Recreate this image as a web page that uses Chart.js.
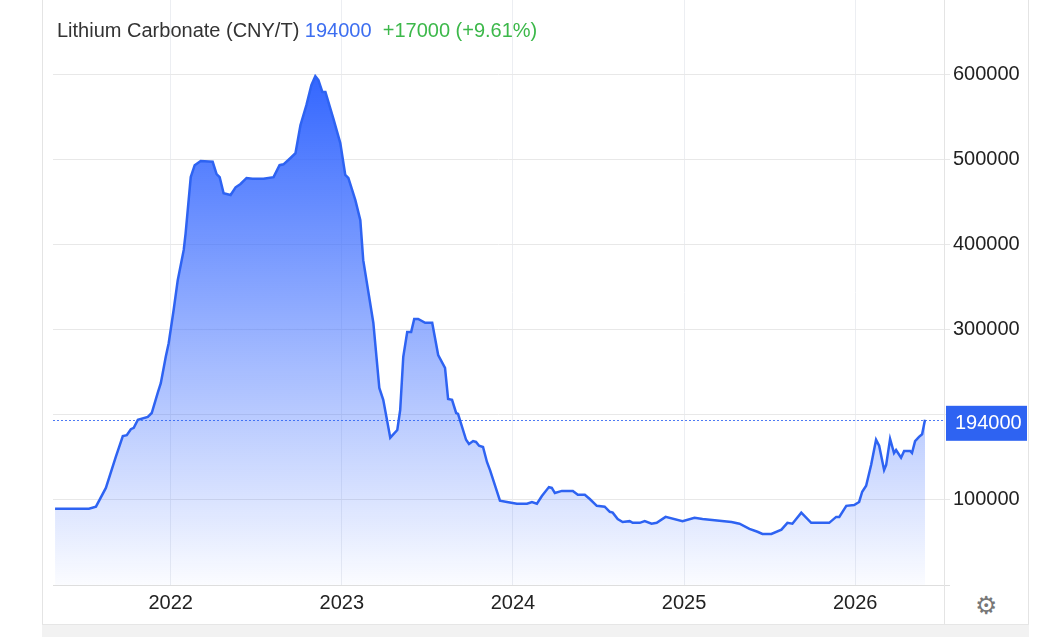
<!DOCTYPE html>
<html lang="en">
<head>
    <meta charset="UTF-8">
    <title>Lithium Carbonate</title>
    <style>
        body, html {
            margin: 0;
            padding: 0;
            width: 1064px;
            height: 637px;
            background: #fff;
            overflow: hidden;
            font-family: 'Liberation Sans', Arial, sans-serif;
        }
        .panel {
            position: absolute;
            left: 42px;
            top: 0;
            width: 985px;
            height: 624px;
            border-left: 1px solid #e4e4e4;
            border-right: 1px solid #e4e4e4;
        }
        .band {
            position: absolute;
            left: 42px;
            top: 624px;
            width: 987px;
            height: 13px;
            background: #f2f2f2;
            border-top: 1px solid #e6e6e6;
        }
        .divider {
            position: absolute;
            left: 944px;
            top: 585px;
            width: 1px;
            height: 39px;
            background: #e4e4e4;
        }
        .gear {
            position: absolute;
            left: 975px;
            top: 591px;
            font-family: 'DejaVu Sans', sans-serif;
            font-size: 25px;
            color: #777;
        }
        canvas {
            position: absolute;
            left: 0;
            top: 0;
        }
    </style>
    <script src="https://cdn.jsdelivr.net/npm/chart.js"></script>
</head>
<body>
    <div class="panel"></div>
    <div class="band"></div>
    <div class="divider"></div>
    <div class="gear">&#9881;</div>
    <canvas id="priceChart" width="1064" height="637"></canvas>
    <script>
        // dates as decimal years, prices in CNY/T
        const dates = [
            2021.324, 2021.522, 2021.563, 2021.621, 2021.679, 2021.720, 2021.743, 2021.767, 2021.784, 2021.808,
            2021.866, 2021.889, 2021.924, 2021.942, 2021.971, 2021.988, 2022.017, 2022.041, 2022.076, 2022.087,
            2022.117, 2022.140, 2022.175, 2022.245, 2022.268, 2022.286, 2022.309, 2022.350, 2022.379, 2022.408,
            2022.443, 2022.478, 2022.542, 2022.601, 2022.636, 2022.659, 2022.700, 2022.729, 2022.758, 2022.793,
            2022.822, 2022.845, 2022.863, 2022.886, 2022.904, 2022.950, 2022.991, 2023.020, 2023.038, 2023.079,
            2023.108, 2023.125, 2023.184, 2023.219, 2023.242, 2023.283, 2023.324, 2023.341, 2023.359, 2023.382,
            2023.405, 2023.423, 2023.446, 2023.487, 2023.528, 2023.563, 2023.603, 2023.621, 2023.644, 2023.668,
            2023.679, 2023.726, 2023.743, 2023.767, 2023.784, 2023.802, 2023.825, 2023.848, 2023.866, 2023.924,
            2023.965, 2024.023, 2024.082, 2024.111, 2024.140, 2024.169, 2024.210, 2024.227, 2024.245, 2024.286,
            2024.350, 2024.379, 2024.420, 2024.449, 2024.490, 2024.536, 2024.566, 2024.583, 2024.612, 2024.641,
            2024.682, 2024.700, 2024.741, 2024.770, 2024.810, 2024.840, 2024.892, 2024.991, 2025.061, 2025.108,
            2025.277, 2025.324, 2025.382, 2025.429, 2025.458, 2025.510, 2025.569, 2025.604, 2025.633, 2025.685,
            2025.743, 2025.773, 2025.848, 2025.889, 2025.907, 2025.948, 2025.994, 2026.023, 2026.041, 2026.064,
            2026.093, 2026.122, 2026.140, 2026.169, 2026.181, 2026.204, 2026.227, 2026.239, 2026.268, 2026.286,
            2026.321, 2026.332, 2026.350, 2026.373, 2026.391, 2026.408
        ];
        const prices = [
            89500, 89500, 92000, 114000, 150500, 175000, 176000, 183000, 184500, 194000,
            197500, 202000, 225500, 237000, 268000, 284000, 323000, 358000, 393500, 413000,
            479000, 493000, 498000, 497000, 482500, 479000, 460000, 458000, 467000, 471000,
            478000, 477000, 477000, 479000, 493000, 494000, 501500, 507000, 540000, 563500,
            587000, 597500, 593000, 579000, 579000, 548000, 519000, 481500, 478000, 452000,
            428500, 381500, 308000, 231500, 217500, 173000, 182000, 205500, 268000, 297000,
            297000, 312500, 312500, 308000, 308000, 270000, 255000, 218500, 217500, 202000,
            201000, 170500, 165500, 169000, 168000, 163500, 162000, 144500, 135000, 99000,
            97500, 95500, 95500, 97500, 95500, 104500, 115000, 114000, 108000, 110500,
            110500, 106000, 106000, 101000, 93000, 92000, 86000, 85000, 77500, 74000,
            75000, 73000, 73000, 75000, 72000, 73000, 80000, 75000, 79000, 77500,
            74000, 72000, 66000, 62500, 60000, 60000, 65000, 73000, 72000, 85000,
            73000, 73000, 73000, 80000, 80000, 93000, 94000, 97500, 109500, 116500,
            141000, 170500, 163500, 135000, 141000, 171500, 155000, 158500, 149500, 157500,
            157500, 155000, 169000, 174000, 177000, 194000
        ];
        const yearTicks = [2022, 2023, 2024, 2025, 2026];
        const priceTicks = [0, 100000, 200000, 300000, 400000, 500000, 600000];
        const hiddenPriceLabels = [0, 200000];

        const titleText = 'Lithium Carbonate (CNY/T) ';
        const lastText = '194000';
        const changeText = '+17000 (+9.61%)';

        const FONT = "'Liberation Sans', Arial, sans-serif";
        const LINE = '#2e63f2';

        const headerPlugin = {
            id: 'header',
            afterDraw(chart) {
                const ctx = chart.ctx;
                const area = chart.chartArea;
                const last = prices[prices.length - 1];
                const y = chart.scales.y.getPixelForValue(last);

                ctx.save();
                // dotted last-price line
                ctx.strokeStyle = 'rgba(46, 99, 242, 0.85)';
                ctx.lineWidth = 1;
                ctx.setLineDash([2, 2]);
                ctx.beginPath();
                ctx.moveTo(area.left, Math.round(y) + 0.5);
                ctx.lineTo(area.right, Math.round(y) + 0.5);
                ctx.stroke();
                ctx.setLineDash([]);

                // price badge
                ctx.fillStyle = '#2e63f2';
                ctx.fillRect(area.right + 2, y - 14, 81, 35);
                ctx.fillStyle = '#fff';
                ctx.font = '20px ' + FONT;
                ctx.textBaseline = 'middle';
                ctx.fillText(String(last), area.right + 11, y + 4);

                // title line
                ctx.textBaseline = 'alphabetic';
                let x = 57;
                ctx.fillStyle = '#333';
                ctx.fillText(titleText, x, 37);
                x += ctx.measureText(titleText).width;
                ctx.fillStyle = '#3d6ef0';
                ctx.fillText(lastText, x, 37);
                x += ctx.measureText(lastText + '  ').width;
                ctx.fillStyle = '#3cb84a';
                ctx.fillText(changeText, x, 37);
                ctx.restore();
            }
        };

        const ctx = document.getElementById('priceChart').getContext('2d');
        new Chart(ctx, {
            type: 'line',
            data: {
                datasets: [{
                    data: dates.map((d, i) => ({ x: d, y: prices[i] })),
                    borderColor: LINE,
                    borderWidth: 2.5,
                    pointRadius: 0,
                    tension: 0,
                    fill: 'origin',
                    backgroundColor: (c) => {
                        const area = c.chart.chartArea;
                        if (!area) return 'rgba(51,102,255,0.5)';
                        const top = c.chart.scales.y.getPixelForValue(600000);
                        const g = c.chart.ctx.createLinearGradient(0, top, 0, area.bottom);
                        g.addColorStop(0, 'rgba(51, 102, 255, 1)');
                        g.addColorStop(1, 'rgba(51, 102, 255, 0.02)');
                        return g;
                    }
                }]
            },
            options: {
                responsive: false,
                animation: false,
                layout: { padding: { left: 53, top: 0, right: 0, bottom: 0 } },
                plugins: {
                    legend: { display: false },
                    tooltip: { enabled: false }
                },
                scales: {
                    x: {
                        type: 'linear',
                        min: 2021.312,
                        max: 2026.519,
                        afterBuildTicks: (axis) => { axis.ticks = yearTicks.map(v => ({ value: v })); },
                        afterFit: (scale) => {
                            scale.height = 52;
                            scale.paddingLeft = 0;
                            scale.paddingRight = 0;
                        },
                        grid: { color: '#eceef2', drawTicks: false },
                        border: { color: '#dedede' },
                        ticks: {
                            color: '#222',
                            padding: 6,
                            maxRotation: 0,
                            font: { family: FONT, size: 20 },
                            callback: (v) => String(v)
                        }
                    },
                    y: {
                        position: 'right',
                        min: 0,
                        max: 687000,
                        afterBuildTicks: (axis) => { axis.ticks = priceTicks.map(v => ({ value: v })); },
                        afterFit: (scale) => {
                            scale.width = 120;
                            scale.paddingTop = 0;
                            scale.paddingBottom = 0;
                        },
                        grid: {
                            color: (c) => c.tick && c.tick.value === 0 ? '#dedede' : '#e8e8e8',
                            tickLength: 6
                        },
                        border: { display: true, color: '#e4e4e4' },
                        ticks: {
                            color: '#222',
                            padding: 3,
                            crossAlign: 'near',
                            font: { family: FONT, size: 20 },
                            callback: (v) => hiddenPriceLabels.includes(v) ? '' : String(v)
                        }
                    }
                }
            },
            plugins: [headerPlugin]
        });
    </script>
</body>
</html>
